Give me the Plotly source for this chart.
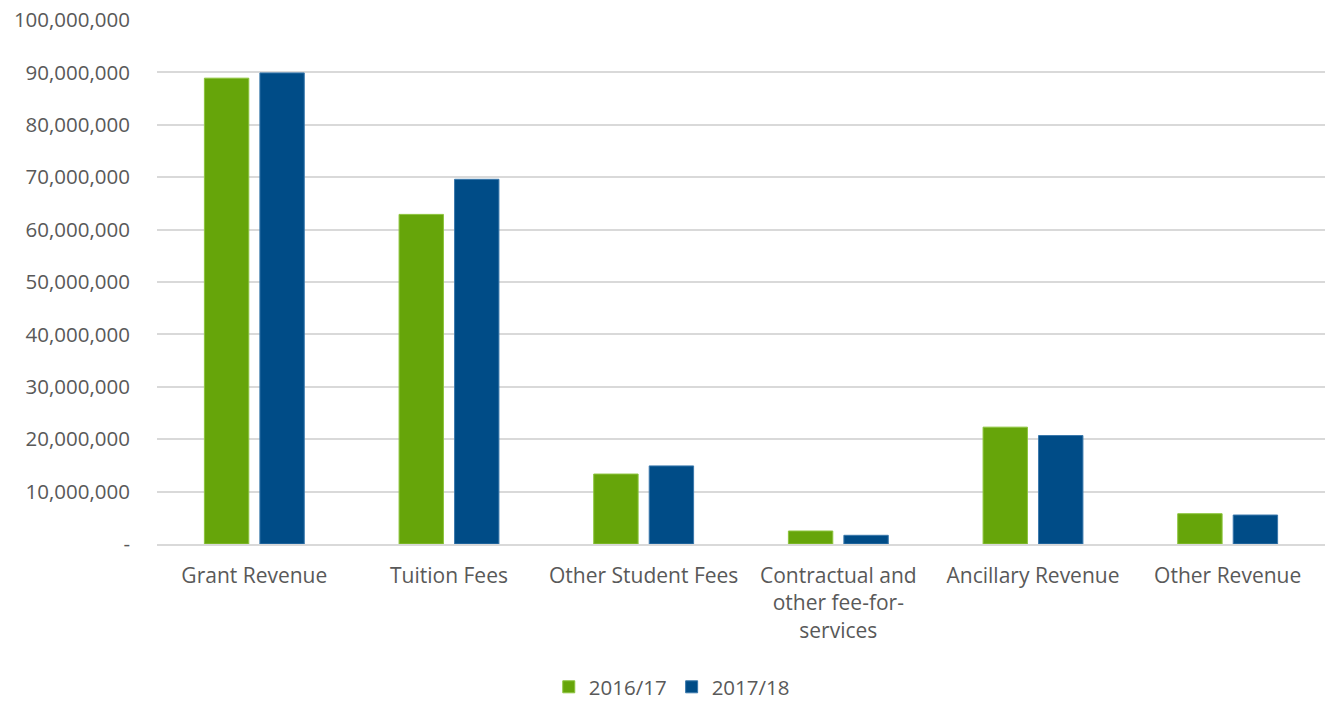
import plotly.graph_objects as go

categories = ["Grant Revenue", "Tuition Fees", "Other Student Fees",
              "Contractual and<br>other fee-for-<br>services", "Ancillary Revenue", "Other Revenue"]
values_2016 = [88900000, 62900000, 13350000, 2480000, 22300000, 5780000]
values_2017 = [89900000, 69600000, 14900000, 1660000, 20700000, 5530000]
tick_vals = [0, 10000000, 20000000, 30000000, 40000000, 50000000, 60000000, 70000000, 80000000, 90000000, 100000000]
tick_text = ["-", "10,000,000", "20,000,000", "30,000,000", "40,000,000", "50,000,000",
             "60,000,000", "70,000,000", "80,000,000", "90,000,000", "100,000,000"]

fig = go.Figure()
fig.add_trace(go.Bar(x=categories, y=values_2016, name="2016/17",
                     marker=dict(color="#66A50A", line=dict(color="#8CC43C", width=1))))
fig.add_trace(go.Bar(x=categories, y=values_2017, name="2017/18",
                     marker=dict(color="#004C87", line=dict(color="#3A78AC", width=1))))

fig.update_layout(
    width=1325, height=701,
    margin=dict(l=157, r=0, t=20, b=157, autoexpand=False),
    plot_bgcolor="white", paper_bgcolor="white",
    barmode="group", bargap=0.43, bargroupgap=0.2,
    font=dict(family="Open Sans", size=20, color="#595959"),
    legend=dict(orientation="h", x=0.507, xref="container", xanchor="center",
                y=0.02, yref="container", yanchor="middle",
                font=dict(size=20.5, color="#595959"), itemwidth=30, tracegroupgap=0),
    showlegend=True,
)
fig.update_yaxes(range=[0, 100000000], tickvals=tick_vals, ticktext=tick_text,
                 showgrid=True, gridcolor="#D9D9D9", gridwidth=1.5, zeroline=False,
                 showline=False, ticks="", ticklabelstandoff=26, automargin=False,
                 tickfont=dict(size=20.5))
fig.update_xaxes(showline=True, linecolor="#D9D9D9", linewidth=1.5, ticks="", ticklabelstandoff=12,
                 automargin=False, tickfont=dict(size=21))

fig.write_html("out.html")
